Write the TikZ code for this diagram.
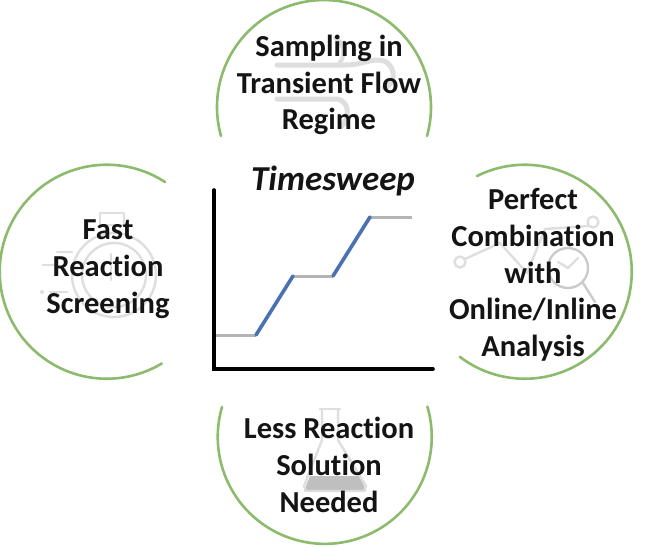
\documentclass[tikz,border=0pt]{standalone}
\usepackage{fontspec}
\setmainfont[Ligatures=NoCommon]{Carlito}
\definecolor{arcgreen}{HTML}{8DBB6E}
\definecolor{icongray}{HTML}{DEDEDE}
\definecolor{linegray}{HTML}{B4B4B4}
\definecolor{stepblue}{HTML}{4A72B2}
\definecolor{inkdark}{HTML}{141414}
\tikzset{
  arcline/.style={draw=arcgreen,line width=2.6pt,line cap=round},
  iconline/.style={draw=icongray,line width=2.4pt,line cap=round,line join=round},
  labeltext/.style={align=center,text=inkdark,inner sep=0pt,font=\fontsize{30.5}{36.7}\selectfont\bfseries},
  axisline/.style={draw=black,line width=3.6pt,line cap=round},
  holdline/.style={draw=linegray,line width=3pt},
  rampline/.style={draw=stepblue,line width=3.6pt,line cap=round}
}
\begin{document}
\begin{tikzpicture}[x=1pt,y=-1pt]
\useasboundingbox (0,0) rectangle (645,546);
\fill[white] (0,0) rectangle (645,546);
% icons
% pipes (top)
\draw[iconline,line width=5pt,draw=icongray] (277,65) -- (345,65) .. controls (360,65) and (368,60) .. (378,60) .. controls (396,60) and (398,84) .. (384,88);
\draw[iconline,line width=5pt,draw=icongray] (277,99) -- (335,99) .. controls (350,99) and (350,118) .. (342,126);
\draw[iconline,line width=4pt] (335,38) .. controls (345,42) and (345,58) .. (340,62);
% stopwatch (left)
\draw[iconline] (114,275) circle (42);
\draw[iconline] (114,275) circle (32);
\draw[iconline] (100,213) rectangle (124,225);
\draw[iconline] (111,254) -- (111,280);
\draw[iconline] (57,252) -- (72,252);
\draw[iconline] (43,265) -- (54,265);
\draw[iconline] (50,292) -- (67,292);
\fill[icongray] (42,292) circle (2);
% analysis (right)
\draw[iconline,draw=linegray!70] (568,268) circle (20);
\draw[iconline,draw=linegray!70] (583,283) -- (595,302);
\draw[iconline] (460,262) circle (5.5);
\draw[iconline] (593,222) circle (5.5);
\draw[iconline] (465,259) -- (500,243) -- (527,273) -- (545,229) -- (588,226);
\draw[iconline] (558,262) -- (568,268) -- (578,258);
% flask (bottom)
\fill[linegray!85] (310,476) -- (360,476) -- (366,491) -- (304,491) -- cycle;
\draw[iconline] (320,409) -- (340,409);
\draw[iconline] (322,409) -- (322,440) -- (304,486) -- (306,491) -- (364,491) -- (366,486) -- (338,440) -- (338,409);
% arcs
\draw[arcline] (221,136) arc[start angle=164.3,end angle=375.7,radius=107];
\draw[arcline] (165,182) arc[start angle=-57,end angle=-301,radius=107];
\draw[arcline] (477,176) arc[start angle=-116.5,end angle=127.4,radius=107];
\draw[arcline] (222,407) arc[start angle=196.2,end angle=-16.4,radius=107];
% chart
\coordinate (origin) at (214,369);
\coordinate (ytop) at (214,190);
\coordinate (xend) at (433,369);
\coordinate (s0) at (216,335);
\coordinate (s1) at (256,335);
\coordinate (s2) at (293,276);
\coordinate (s3) at (333,276);
\coordinate (s4) at (370,217);
\coordinate (s5) at (412,217);
\draw[holdline] (s0) -- (s1);
\draw[holdline] (s2) -- (s3);
\draw[holdline] (s4) -- (s5);
\draw[rampline] (s1) -- (s2);
\draw[rampline] (s3) -- (s4);
\draw[axisline] (ytop) -- (origin) -- (xend);
% labels
\node[labeltext] (sampling) at (329,85) {Sampling in\\Transient Flow\\Regime};
\node[labeltext] (fast) at (108,269) {Fast\\Reaction\\Screening};
\node[labeltext] (perfect) at (533,275) {Perfect\\Combination\\with\\Online/Inline\\Analysis};
\node[labeltext] (less) at (329,465) {Less Reaction\\Solution\\Needed};
\node[text=inkdark,inner sep=0pt,font=\fontsize{35}{38}\selectfont\bfseries\itshape] (title) at (333,181) {Timesweep};
\end{tikzpicture}
\end{document}
